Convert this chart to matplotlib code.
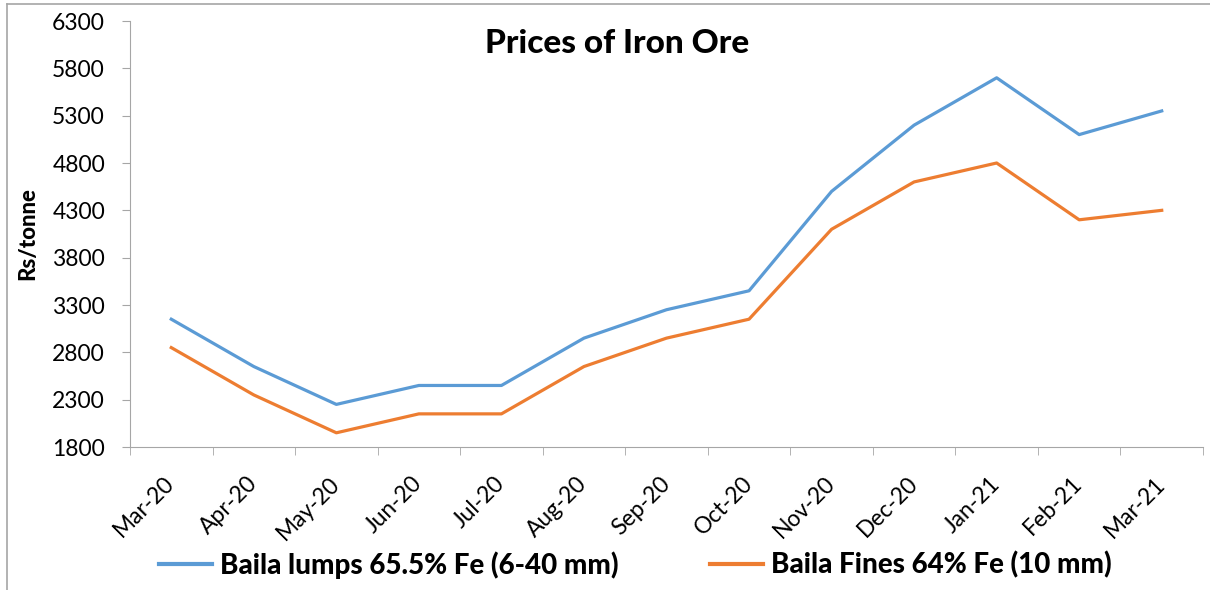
import numpy as np
import matplotlib.pyplot as plt
from matplotlib.lines import Line2D

plt.rcParams['font.family'] = ['Lato', 'DejaVu Sans']

months = ["Mar-20", "Apr-20", "May-20", "Jun-20", "Jul-20", "Aug-20", "Sep-20",
          "Oct-20", "Nov-20", "Dec-20", "Jan-21", "Feb-21", "Mar-21"]
lumps = [3150, 2650, 2250, 2450, 2450, 2950, 3250, 3450, 4500, 5200, 5700, 5100, 5350]
fines = [2850, 2350, 1950, 2150, 2150, 2650, 2950, 3150, 4100, 4600, 4800, 4200, 4300]
yticks = [1800, 2300, 2800, 3300, 3800, 4300, 4800, 5300, 5800, 6300]

blue = "#5B9BD5"
orange = "#ED7D31"
grey = "#A6A6A6"

fig = plt.figure(figsize=(12.1, 5.9), dpi=100)
ax = fig.add_axes([130/1210, 1-447/590, (1203-130)/1210, (447-21)/590])

x = np.arange(len(months))
ax.plot(x, lumps, color=blue, lw=2.3, label="Baila lumps 65.5% Fe (6-40 mm)")
ax.plot(x, fines, color=orange, lw=2.3, label="Baila Fines 64% Fe (10 mm)")

ax.set_xlim(-0.5, len(months) - 0.5)
ax.set_ylim(1800, 6300)
ax.set_yticks(yticks)
ax.set_yticklabels([str(v) for v in yticks], fontsize=16.5)
ax.tick_params(axis='y', length=6, color=grey, pad=12)

ax.set_xticks(x)
ax.set_xticklabels(months, fontsize=16.5, rotation=45, ha='right', va='center',
                   rotation_mode='anchor')
ax.tick_params(axis='x', which='major', length=0, pad=24)
ax.set_xticks(np.arange(-0.5, len(months)), minor=True)
ax.tick_params(axis='x', which='minor', length=6, color=grey)

for s in ['top', 'right']:
    ax.spines[s].set_visible(False)
for s in ['left', 'bottom']:
    ax.spines[s].set_color(grey)

ax.set_ylabel("Rs/tonne", fontsize=16, fontweight='black', labelpad=10)
ax.text(0.454, 0.948, "Prices of Iron Ore", transform=ax.transAxes, ha='center',
        va='center', fontsize=24, fontweight='black')

leg = fig.legend(loc='center', bbox_to_anchor=(0.525, 1-565/590), ncol=2, frameon=False,
                 prop={'size': 20, 'weight': 'black'}, handlelength=1.9,
                 columnspacing=3.3, handletextpad=0.3)
leg.get_lines()[0].set_linewidth(3)
leg.get_lines()[1].set_linewidth(3)

# chart border
fig.add_artist(Line2D([7/1210, 7/1210], [0, 1-4/590], color=grey, lw=1.2))
fig.add_artist(Line2D([7/1210, 1], [1-4/590, 1-4/590], color=grey, lw=1.2))

fig.savefig("out.png", dpi=100)
